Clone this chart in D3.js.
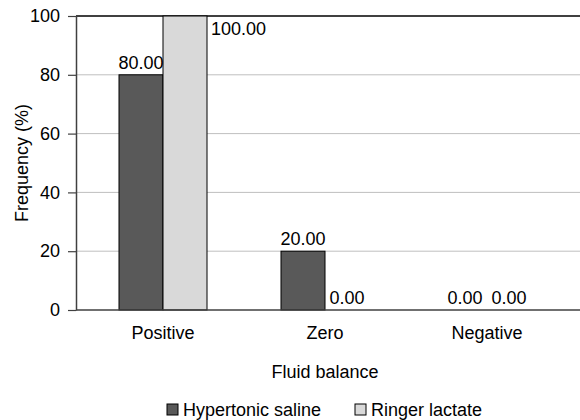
<!DOCTYPE html>
<html>
<head>
<meta charset="utf-8">
<script src="https://cdn.jsdelivr.net/npm/d3@7"></script>
<style>
  body { margin: 0; background: #fff; }
  svg { display: block; font-family: 'Liberation Sans', Arial, sans-serif; }
  .axis text { font-size: 18px; fill: #000; }
</style>
</head>
<body>
<div id="chart"></div>
<script>
const categories = ['Positive', 'Zero', 'Negative']
const seriesNames = ['Hypertonic saline', 'Ringer lactate']
const hypertonicSaline = [80, 20, 0]
const ringerLactate = [100, 0, 0]
const yTicks = [0, 20, 40, 60, 80, 100]
const colors = ['#595959', '#d9d9d9']

const W = 580
const H = 420
const margin = { top: 16, right: 0, bottom: 110, left: 76 }
const width = W - margin.left - margin.right
const height = H - margin.top - margin.bottom
const barW = 44
const fontSize = 18

const svg = d3.select('#chart').append('svg')
  .attr('width', W)
  .attr('height', H)

const g = svg.append('g')
  .attr('transform', 'translate(' + margin.left + ',' + margin.top + ')')

const x0 = d3.scaleBand().domain(categories).range([6, 492]).padding(0)
const x1 = d3.scaleBand().domain(seriesNames)
  .range([x0.bandwidth() / 2 - barW, x0.bandwidth() / 2 + barW])

const y = d3.scaleLinear().domain([0, 100]).range([height, 0])

// gridlines
g.append('g')
  .selectAll('line')
  .data(yTicks.filter(d => d > 0 && d < 100))
  .enter().append('line')
  .attr('x1', 0).attr('x2', width)
  .attr('y1', d => y(d)).attr('y2', d => y(d))
  .attr('stroke', '#bfbfbf')
  .attr('stroke-width', 1)

// top border
g.append('line')
  .attr('x1', 0).attr('x2', width)
  .attr('y1', y(100)).attr('y2', y(100))
  .attr('stroke', '#000')
  .attr('stroke-width', 1.5)

const data = categories.map((c, i) => ({
  category: c,
  values: [
    { name: seriesNames[0], value: hypertonicSaline[i], color: colors[0] },
    { name: seriesNames[1], value: ringerLactate[i], color: colors[1] }
  ]
}))

const groups = g.append('g').selectAll('.group')
  .data(data)
  .enter().append('g')
  .attr('class', 'group')
  .attr('transform', d => 'translate(' + x0(d.category) + ',0)')

groups.selectAll('rect')
  .data(d => d.values)
  .enter().append('rect')
  .attr('x', d => x1(d.name))
  .attr('y', d => y(d.value))
  .attr('width', x1.bandwidth())
  .attr('height', d => height - y(d.value))
  .attr('fill', d => d.color)
  .attr('stroke', '#000')
  .attr('stroke-width', 1)

groups.selectAll('.label')
  .data(d => d.values)
  .enter().append('text')
  .attr('class', 'label')
  .attr('font-size', fontSize)
  .attr('text-anchor', d => d.value >= 100 ? 'start' : 'middle')
  .attr('x', d => d.value >= 100 ? x1(d.name) + x1.bandwidth() + 4 : x1(d.name) + x1.bandwidth() / 2)
  .attr('y', d => d.value >= 100 ? y(d.value) + 19 : y(d.value) - 6)
  .text(d => d3.format('.2f')(d.value))

// y axis
const axisY = d3.axisLeft(y).tickValues(yTicks).tickSize(8).tickPadding(8).tickSizeOuter(0)
const gy = g.append('g').attr('class', 'axis').call(axisY)
gy.select('.domain').attr('stroke', '#404040').attr('stroke-width', 1.5)
gy.selectAll('.tick line').attr('stroke', '#404040').attr('stroke-width', 1.2)

// x baseline
g.append('line')
  .attr('x1', 0).attr('x2', width)
  .attr('y1', height).attr('y2', height)
  .attr('stroke', '#404040')
  .attr('stroke-width', 1.5)

// x labels
g.append('g').attr('class', 'axis')
  .selectAll('text')
  .data(categories)
  .enter().append('text')
  .attr('x', d => x0(d) + x0.bandwidth() / 2)
  .attr('y', height + 29)
  .attr('text-anchor', 'middle')
  .text(d => d)

// axis titles
svg.append('text')
  .attr('x', 325).attr('y', 378)
  .attr('text-anchor', 'middle')
  .attr('font-size', fontSize)
  .text('Fluid balance')

svg.append('text')
  .attr('transform', 'translate(28,' + (margin.top + height / 2) + ') rotate(-90)')
  .attr('text-anchor', 'middle')
  .attr('font-size', fontSize)
  .text('Frequency (%)')

// legend
const legendX = [167, 355]
const legend = svg.append('g').selectAll('g')
  .data(seriesNames)
  .enter().append('g')
  .attr('transform', (d, i) => 'translate(' + legendX[i] + ',404)')

legend.append('rect')
  .attr('width', 11).attr('height', 11)
  .attr('fill', (d, i) => colors[i])
  .attr('stroke', '#000')

legend.append('text')
  .attr('x', 16).attr('y', 12)
  .attr('font-size', fontSize)
  .text(d => d)
</script>
</body>
</html>
